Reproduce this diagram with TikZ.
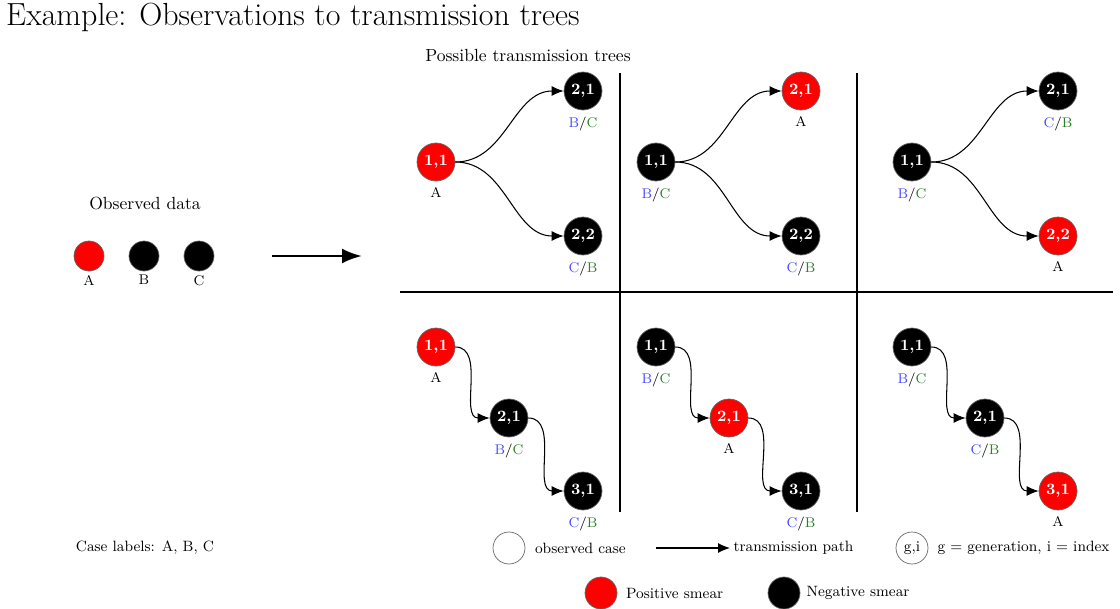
\documentclass[tikz,border=0pt]{standalone}
\usepackage{xcolor}
\usepackage{tikz}
\usetikzlibrary{arrows.meta,positioning}

\definecolor{firstc}{RGB}{70,70,255}
\definecolor{secondc}{RGB}{40,130,40}
\newcommand{\labBC}{\textcolor{firstc}{B}/\textcolor{secondc}{C}}
\newcommand{\labCB}{\textcolor{firstc}{C}/\textcolor{secondc}{B}}

\begin{document}
\begin{tikzpicture}[
  x=0.02cm, y=-0.02cm,
  case/.style={circle, draw=black!60, minimum size=0.76cm, inner sep=0pt,
    font=\small\bfseries, text=white},
  poscase/.style={case, fill=red},
  negcase/.style={case, fill=black},
  obs/.style={circle, draw=black!60, minimum size=0.6cm, inner sep=0pt},
  tagtext/.style={font=\footnotesize, inner sep=1pt, label distance=2.3pt},
  legtext/.style={font=\fontsize{8.5}{10}\selectfont},
  link/.style={-{Latex[length=2.4mm,width=2mm]}, semithick},
  divider/.style={semithick}
]
\useasboundingbox (0,0) rectangle (1120,609);

% titles
\node[anchor=west, font=\fontsize{18.2}{22}\selectfont] (title) at (0,17) {Example: Observations to transmission trees};
\node (possible) at (528,55) {Possible transmission trees};
\node (observed) at (145,203) {Observed data};

% observed data
\node[obs, fill=red, label={[tagtext, label distance=1pt]below:A}] (oa) at (89,256) {};
\node[obs, fill=black, label={[tagtext, label distance=1pt]below:B}] (ob) at (144,256) {};
\node[obs, fill=black, label={[tagtext, label distance=1pt]below:C}] (oc) at (199,256) {};
\coordinate (bigs) at (272,256);
\coordinate (bige) at (362,256);
\draw[-{Latex[length=4mm,width=3mm]}, ultra thick] (bigs) -- (bige);

% dividers
\coordinate (v1t) at (620,73);  \coordinate (v1b) at (620,512);
\coordinate (v2t) at (857,73);  \coordinate (v2b) at (857,512);
\coordinate (hl) at (400,292);  \coordinate (hr) at (1113,292);
\draw[divider] (v1t) -- (v1b);
\draw[divider] (v2t) -- (v2b);
\draw[divider] (hl) -- (hr);

% tree 1
\node[poscase, label={[tagtext]below:A}] (t1r) at (436,162) {1,1};
\node[negcase, label={[tagtext]below:\labBC}] (t1a) at (583,91) {2,1};
\node[negcase, label={[tagtext]below:\labCB}] (t1b) at (583,236) {2,2};
\draw[link] (t1r.east) to[out=0,in=180] (t1a.west);
\draw[link] (t1r.east) to[out=0,in=180] (t1b.west);

% tree 2
\node[negcase, label={[tagtext]below:\labBC}] (t2r) at (656,162) {1,1};
\node[poscase, label={[tagtext]below:A}] (t2a) at (801,91) {2,1};
\node[negcase, label={[tagtext]below:\labCB}] (t2b) at (801,236) {2,2};
\draw[link] (t2r.east) to[out=0,in=180] (t2a.west);
\draw[link] (t2r.east) to[out=0,in=180] (t2b.west);

% tree 3
\node[negcase, label={[tagtext]below:\labBC}] (t3r) at (912,162) {1,1};
\node[negcase, label={[tagtext]below:\labCB}] (t3a) at (1058,91) {2,1};
\node[poscase, label={[tagtext]below:A}] (t3b) at (1058,236) {2,2};
\draw[link] (t3r.east) to[out=0,in=180] (t3a.west);
\draw[link] (t3r.east) to[out=0,in=180] (t3b.west);

% tree 4
\node[poscase, label={[tagtext]below:A}] (t4r) at (436,347) {1,1};
\node[negcase, label={[tagtext]below:\labBC}] (t4a) at (509,418) {2,1};
\node[negcase, label={[tagtext]below:\labCB}] (t4b) at (583,491) {3,1};
\draw[link] (t4r.east) to[out=0,in=180] (t4a.west);
\draw[link] (t4a.east) to[out=0,in=180] (t4b.west);

% tree 5
\node[negcase, label={[tagtext]below:\labBC}] (t5r) at (656,347) {1,1};
\node[poscase, label={[tagtext]below:A}] (t5a) at (729,418) {2,1};
\node[negcase, label={[tagtext]below:\labCB}] (t5b) at (801,491) {3,1};
\draw[link] (t5r.east) to[out=0,in=180] (t5a.west);
\draw[link] (t5a.east) to[out=0,in=180] (t5b.west);

% tree 6
\node[negcase, label={[tagtext]below:\labBC}] (t6r) at (912,347) {1,1};
\node[negcase, label={[tagtext]below:\labCB}] (t6a) at (985,418) {2,1};
\node[poscase, label={[tagtext]below:A}] (t6b) at (1058,491) {3,1};
\draw[link] (t6r.east) to[out=0,in=180] (t6a.west);
\draw[link] (t6a.east) to[out=0,in=180] (t6b.west);

% legend
\node[legtext] (caselab) at (145,548) {Case labels: A, B, C};
\node[obs, minimum size=0.64cm] (lobs) at (509,548) {};
\node[right=0.07cm of lobs, legtext] (lobstxt) {observed case};
\coordinate (las) at (656,548);
\coordinate (lae) at (730,548);
\draw[link] (las) -- (lae);
\node[right=-0.05cm of lae, legtext] (latxt) {transmission path};
\node[obs, minimum size=0.64cm, legtext] (lgi) at (912,548) {g,i};
\node[right=0.06cm of lgi, legtext] (lgitxt) {g = generation, i = index};
\node[obs, minimum size=0.64cm, fill=red] (lpos) at (601,593) {};
\node[right=0.05cm of lpos, legtext] (lpostxt) {Positive smear};
\node[obs, minimum size=0.64cm, fill=black] (lneg) at (784,593) {};
\node[right=0pt of lneg, legtext] (lnegtxt) {Negative smear};
\end{tikzpicture}
\end{document}
